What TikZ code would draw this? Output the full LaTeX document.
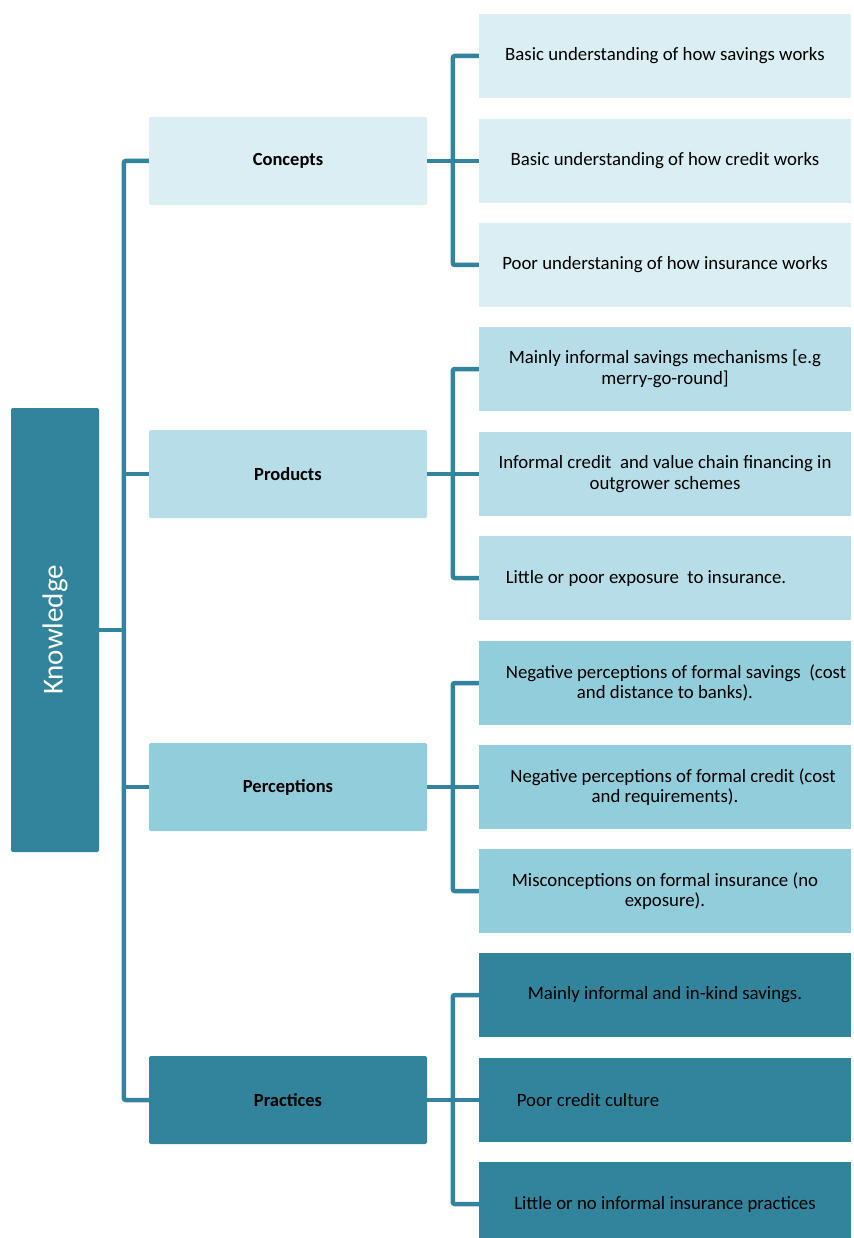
\documentclass[tikz,border=0pt]{standalone}
\usepackage{fontspec}
\usepackage{graphicx}
\setmainfont{Carlito}
\definecolor{tealD}{HTML}{31849B}
\definecolor{tealA}{HTML}{DAEEF3}
\definecolor{tealB}{HTML}{B7DEE8}
\definecolor{tealC}{HTML}{92CDDC}
\begin{document}
\begin{tikzpicture}[x=1pt,y=-1pt,
  conn/.style={draw=tealD, line width=4.5pt, rounded corners=2pt},
  root/.style={rectangle, rounded corners=2pt, fill=tealD, text=white, minimum width=88pt, minimum height=444pt, inner sep=0pt, font=\fontsize{29}{32}\selectfont},
  mid/.style={rectangle, rounded corners=2pt, minimum width=278pt, minimum height=88pt, inner sep=0pt, font=\fontsize{18.5}{21}\selectfont\bfseries},
  leaf/.style={rectangle, minimum width=372pt, minimum height=84pt, inner sep=0pt, align=center, font=\fontsize{18.8}{20.5}\selectfont}]
\clip (0,0) rectangle (853,1238);
\fill[white] (0,0) rectangle (853,1238);

% root
\node[root] (know) at (55,630) {\rotatebox{90}{Knowledge}};

% level 2
\node[mid, fill=tealA] (conc) at (288,161) {Concepts};
\node[mid, fill=tealB] (prod) at (288,474) {Products};
\node[mid, fill=tealC] (perc) at (288,787) {Perceptions};
\node[mid, fill=tealD] (prac) at (288,1100) {Practices};

% leaves: concepts
\node[leaf, fill=tealA] (c1) at (665,56) {Basic understanding of how savings works};
\node[leaf, fill=tealA] (c2) at (665,161) {Basic understanding of how credit works};
\node[leaf, fill=tealA] (c3) at (665,265) {Poor understaning of how insurance works};
% leaves: products
\node[leaf, fill=tealB] (p1) at (665,369) {Mainly informal savings mechanisms [e.g\\merry-go-round]};
\node[leaf, fill=tealB] (p2) at (665,474) {Informal credit\ \ and value chain financing in\\outgrower schemes};
\node[leaf, fill=tealB] (p3) at (665,578) {Little or poor exposure\ \ to insurance.\hspace*{38pt}};
% leaves: perceptions
\node[leaf, fill=tealC] (e1) at (665,683) {Negative perceptions of formal savings\ \ (cost\hspace*{-22pt}\\and distance to banks).};
\node[leaf, fill=tealC] (e2) at (665,787) {Negative perceptions of formal credit (cost\hspace*{-16pt}\\and requirements).};
\node[leaf, fill=tealC] (e3) at (665,891) {Misconceptions on formal insurance (no\\exposure).};
% leaves: practices
\node[leaf, fill=tealD] (r1) at (665,995) {Mainly informal and in-kind savings.};
\node[leaf, fill=tealD] (r2) at (665,1100) {Poor credit culture\hspace*{154pt}};
\node[leaf, fill=tealD] (r3) at (665,1204) {Little or no informal insurance practices};

% trunk
\draw[conn] (conc.west) -- ++(-25,0) |- (prac.west);
\draw[conn] (prod.west) -- ++(-25,0);
\draw[conn] (perc.west) -- ++(-25,0);
\draw[conn, line width=3.5pt] (know.east) -- ++(25,0);

% branches
\draw[conn] (c1.west) -- ++(-26,0) |- (c3.west);
\draw[conn] (conc.east) -- (c2.west);
\draw[conn] (p1.west) -- ++(-26,0) |- (p3.west);
\draw[conn] (prod.east) -- (p2.west);
\draw[conn] (e1.west) -- ++(-26,0) |- (e3.west);
\draw[conn] (perc.east) -- (e2.west);
\draw[conn] (r1.west) -- ++(-26,0) |- (r3.west);
\draw[conn] (prac.east) -- (r2.west);
\end{tikzpicture}
\end{document}
